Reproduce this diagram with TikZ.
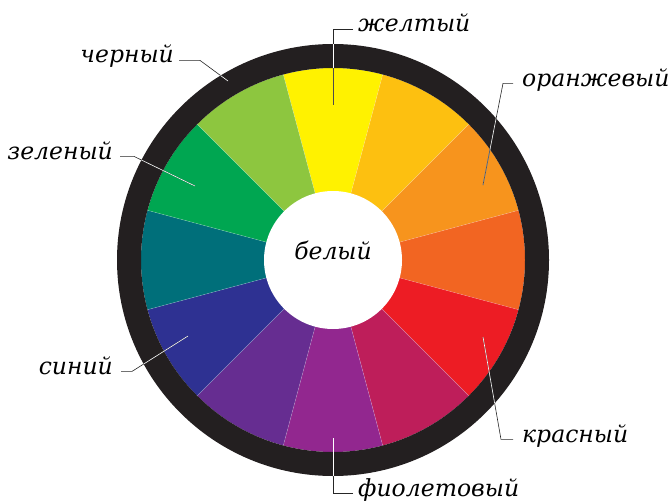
\documentclass[tikz,border=0pt]{standalone}
\usepackage{fontspec}
\setmainfont{DejaVu Serif}
\usetikzlibrary{positioning}

\definecolor{cYellow}{HTML}{FFF200}
\definecolor{cYelOr}{HTML}{FDC010}
\definecolor{cOrange}{HTML}{F7941D}
\definecolor{cRedOr}{HTML}{F26522}
\definecolor{cRed}{HTML}{ED1C24}
\definecolor{cRedVi}{HTML}{BE1E5A}
\definecolor{cViolet}{HTML}{92278F}
\definecolor{cBlueVi}{HTML}{662D91}
\definecolor{cBlue}{HTML}{2E3192}
\definecolor{cTeal}{HTML}{006F7A}
\definecolor{cGreen}{HTML}{00A651}
\definecolor{cYelGr}{HTML}{8DC63F}
\definecolor{cRing}{HTML}{231F20}

\begin{document}
\begin{tikzpicture}[
            x=1pt, y=-1pt,
            lbl/.style={font=\itshape\fontsize{23.5}{23.5}\selectfont, inner sep=0pt, text=black},
            leader/.style={line width=0.6pt, draw=black!85},
            wedge/.style={shift={(c)}}
        ]
        \useasboundingbox (0,0) rectangle (671,503);
        \coordinate (c) at (333,260);

        % colour wheel
        \foreach \a/\col in {-90/cYellow, -60/cYelOr, -30/cOrange, 0/cRedOr, 30/cRed, 60/cRedVi,
                             90/cViolet, 120/cBlueVi, 150/cBlue, 180/cTeal, 210/cGreen, 240/cYelGr}
            \fill[wedge, \col] (0,0) -- (\a-15:192) arc[start angle=\a-15, end angle=\a+15, radius=192] -- cycle;
        \foreach \a in {-75,-45,...,255}
            \draw[wedge, white, opacity=0.35, line width=0.4pt] (0,0) -- (\a:192);
        \fill[cRing, even odd rule] (c) circle[radius=216] (c) circle[radius=192];
        \fill[white] (c) circle[radius=69];

        % labels
        \node[lbl, anchor=base] (tWhite) at (333,259) {белый};
        \node[lbl, anchor=base east] (tBlack) at (174,63) {черный};
        \node[lbl, anchor=base east] (tGreen) at (113,159) {зеленый};
        \node[lbl, anchor=base east] (tBlue) at (113,374) {синий};
        \node[lbl, anchor=base west] (tYellow) at (358,32) {желтый};
        \node[lbl, anchor=base west] (tOrange) at (522,86) {оранжевый};
        \node[lbl, anchor=base west] (tRed) at (522,442) {красный};
        \node[lbl, anchor=base west] (tViolet) at (358,496) {фиолетовый};

        % leader lines
        \coordinate (sBlack) at ([xshift=5pt]tBlack.mid east);
        \coordinate (bBlack) at ([xshift=26pt]tBlack.mid east);
        \coordinate (eBlack) at (228,81);
        \coordinate (sGreen) at ([xshift=7pt]tGreen.mid east);
        \coordinate (bGreen) at ([xshift=21pt]tGreen.mid east);
        \coordinate (eGreen) at (195,186);
        \coordinate (sBlue) at ([xshift=8pt]tBlue.mid east);
        \coordinate (bBlue) at ([xshift=19pt]tBlue.mid east);
        \coordinate (eBlue) at (188,336);
        \coordinate (sYellow) at ([xshift=-5pt]tYellow.mid west);
        \coordinate (eYellow) at (333,105);
        \coordinate (bYellow) at (eYellow |- sYellow);
        \coordinate (sOrange) at ([xshift=-9pt]tOrange.mid west);
        \coordinate (bOrange) at ([xshift=-19pt]tOrange.mid west);
        \coordinate (eOrange) at (483,185);
        \coordinate (sRed) at ([xshift=-9pt]tRed.mid west);
        \coordinate (bRed) at ([xshift=-21pt]tRed.mid west);
        \coordinate (eRed) at (483,337);
        \coordinate (sViolet) at ([xshift=-5pt]tViolet.mid west);
        \coordinate (eViolet) at (333,438);
        \coordinate (bViolet) at (eViolet |- sViolet);

        \foreach \n in {Black,Green,Blue,Yellow,Orange,Red,Violet}
            \draw[leader] (s\n) -- (b\n) -- (e\n);
        \begin{scope}
            \clip (c) circle[radius=216];
            \foreach \n in {Black,Green,Blue,Yellow,Orange,Red,Violet}
                \draw[leader, draw=white] (s\n) -- (b\n) -- (e\n);
        \end{scope}
        \begin{scope}
            \clip (c) circle[radius=192];
            \foreach \n in {Yellow,Orange}
                \draw[leader, draw=black!70] (s\n) -- (b\n) -- (e\n);
        \end{scope}
\end{tikzpicture}
\end{document}
